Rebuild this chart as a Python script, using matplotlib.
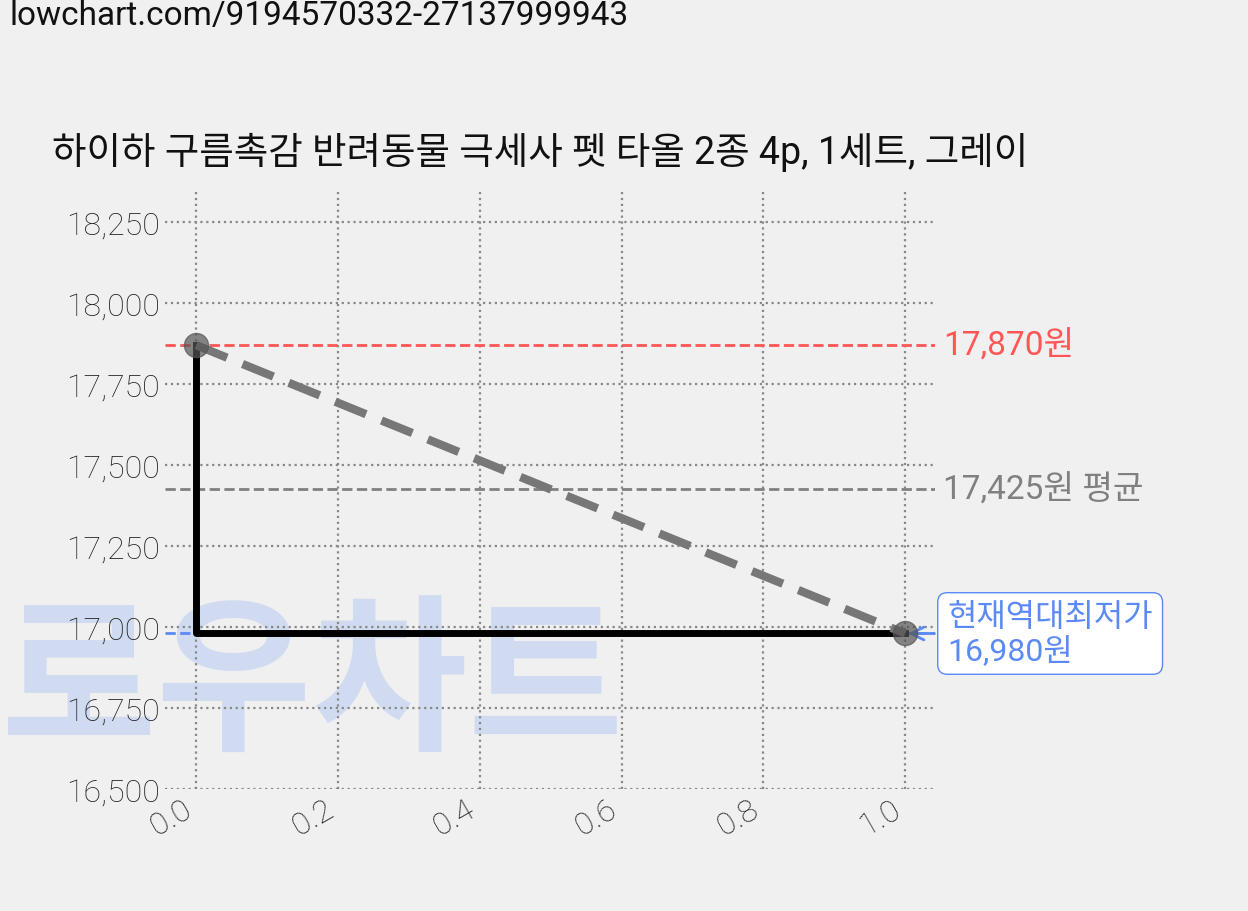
import matplotlib
matplotlib.use("Agg")
import matplotlib.pyplot as plt

plt.rcParams['font.family'] = ['Roboto', 'Noto Sans CJK KR', 'DejaVu Sans']

title = "하이하 구름촉감 반려동물 극세사 펫 타올 2종 4p, 1세트, 그레이"
url = "lowchart.com/9194570332-27137999943"
xs = [0.0, 1.0]
prices = [17870, 16980]
max_price = 17870
avg_price = 17425
min_price = 16980
yticks = [16500, 16750, 17000, 17250, 17500, 17750, 18000, 18250]

bg = '#f0f0f0'
fig = plt.figure(figsize=(12.48, 9.12), dpi=100, facecolor=bg)
ax = fig.add_axes([165/1248, 1-790/912, 770/1248, 600/912])
ax.patch.set_alpha(0)

fig.text(0.0, 1-688/912, "로우차트", fontsize=122, color='#c9d6f2', alpha=0.8,
         fontweight='bold', family=['Noto Sans CJK KR'], ha='left', va='center',
         zorder=-1, style='italic')

ax.grid(True, color='#888888', linestyle=':', linewidth=1.6)
for s in ax.spines.values():
    s.set_visible(False)

ax.axhline(max_price, color='#ff5555', linestyle='--', linewidth=2)
ax.axhline(avg_price, color='#808080', linestyle='--', linewidth=2)
ax.axhline(min_price, color='#5b8af5', linestyle='--', linewidth=2)

ax.plot([xs[0], xs[0], xs[1]], [prices[0], prices[1], prices[1]], color='black', linewidth=5, zorder=3)
ax.plot(xs, prices, color='#777777', linestyle='--', linewidth=6, dashes=(4, 2), zorder=4)
ax.scatter(xs, prices, s=300, color='#555555', alpha=0.7, zorder=5)

ax.set_xlim(-0.044, 1.042)
ax.set_ylim(16500, 18352)
ax.set_yticks(yticks)
ax.set_yticklabels([f"{v:,}" for v in yticks])
ax.set_xticks([0, 0.2, 0.4, 0.6, 0.8, 1.0])
ax.set_xticklabels(["0.0", "0.2", "0.4", "0.6", "0.8", "1.0"], rotation=30, ha='right')
ax.tick_params(length=0, labelsize=23, colors='#222222')
for lab in ax.get_xticklabels() + ax.get_yticklabels():
    lab.set_fontweight('light')

yt = ax.get_yaxis_transform()
ax.text(1.01, max_price, f"{max_price:,}원", color='#ff5555', fontsize=24, va='center', transform=yt)
ax.text(1.01, avg_price, f"{avg_price:,}원 평균", color='#808080', fontsize=24, va='center', transform=yt)
ax.annotate(f"현재역대최저가\n{min_price:,}원", xy=(1.0, min_price), xytext=(1.016, min_price),
            textcoords=yt, color='#5b8af5', fontsize=23, va='center',
            linespacing=1.1,
            bbox=dict(boxstyle='round,pad=0.3', fc='white', ec='#5b8af5'),
            arrowprops=dict(arrowstyle='->', color='#5b8af5', lw=2))

fig.text(52/1248, 1-152/912, title, fontsize=27, va='center', ha='left', color='#111111')
fig.text(10/1248, 1-16/912, url, fontsize=24, va='center', ha='left', color='#111111')

fig.savefig("out.png", dpi=100, facecolor=bg)
